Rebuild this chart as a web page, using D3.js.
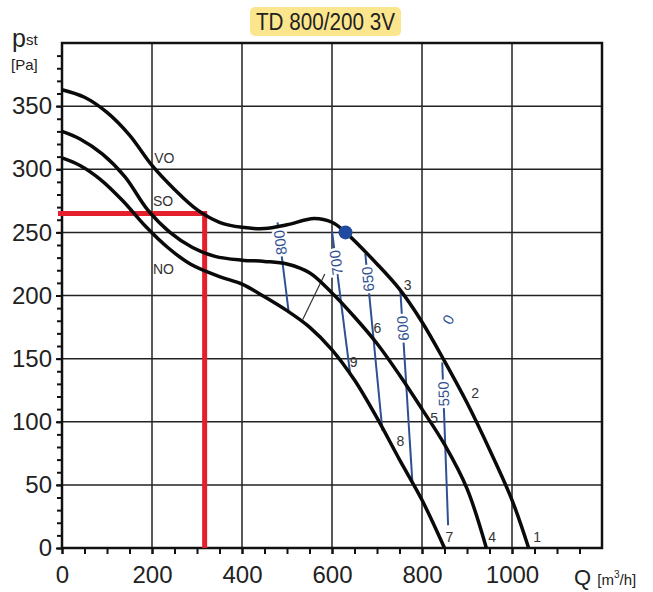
<!DOCTYPE html>
<html><head><meta charset="utf-8">
<script src="https://cdn.jsdelivr.net/npm/d3@7"></script>
<style>html,body{margin:0;padding:0;background:#fff}svg{display:block}</style>
</head><body>
<svg id="c" width="653" height="592"></svg>
<script>
// ---- data ----
const title = "TD 800/200 3V";
const qVO = [0,50,100,150,200,250,300,350,400,450,500,560,600,630,700,750,800,850,900,950,1000,1037];
const pVO = [363,357,345,327,303,284,268,258,254,253,256,261,258,250,225,205,179,148,115,78,38,0];
const qSO = [0,40,90,140,190,240,290,340,400,450,500,550,600,650,700,750,800,850,900,943];
const pSO = [330,324,312,294,268,250,238,231,228,227,225,218,202,183,162,137,110,82,47,0];
const qNO = [0,40,85,135,185,235,285,350,400,450,500,550,600,650,700,750,800,850];
const pNO = [309,303,292,275,255,238,225,215,209,199,188,175,157,133,103,70,38,0];
const curveNames = ["VO","SO","NO"];
const curveNameQ = [205,202,202];
const curveNameP = [309,275,221];
const pointNums = ["3","2","1","6","5","4","9","8","7"];
const pointNumQ = [768,918,1056,701,827,956,648,752,861];
const pointNumP = [208,123,9,174,103,9,147,85,9];
const isoLabels = ["800","700","650","600","550"];
const isoQ1 = [479,600,674,752,845];
const isoP1 = [258,251,233,203,147];
const isoQ2 = [504,640,712,779,858];
const isoP2 = [186,139,93,50,18];
const isoLabelP = [242,226,213,174,122];
const sysQ = [535,584], sysP = [181,217];
const opQ = 630, opP = 250;
const selQ = 317, selP = 265;
const xTicks = [0,200,400,600,800,1000];
const yTicks = [0,50,100,150,200,250,300,350];

// ---- scales ----
const svg = d3.select("#c");
const x = d3.scaleLinear().domain([0,1200]).range([62,602]);
const y = d3.scaleLinear().domain([0,400]).range([548,43]);
const FONT = "'Liberation Sans', Arial, sans-serif";

// title
svg.append("rect").attr("x",250).attr("y",7).attr("width",151).attr("height",29).attr("rx",5).attr("fill","#fbe68e");
svg.append("text").attr("x",325.5).attr("y",30).attr("text-anchor","middle").attr("font-family",FONT)
  .attr("font-size",23).attr("textLength",139).attr("lengthAdjust","spacingAndGlyphs").attr("fill","#222").text(title);

// grid
const g = svg.append("g");
g.selectAll("line.vg").data(xTicks.filter(d=>d>0)).join("line")
  .attr("x1",d=>x(d)).attr("x2",d=>x(d)).attr("y1",y(400)).attr("y2",y(0))
  .attr("stroke","#222").attr("stroke-width",1.5);
g.selectAll("line.hg").data(yTicks.filter(d=>d>0)).join("line")
  .attr("y1",d=>y(d)).attr("y2",d=>y(d)).attr("x1",x(0)).attr("x2",x(1200))
  .attr("stroke","#222").attr("stroke-width",1.5);

// axes ticks
const fmt = d3.format("d");
const yMinor = d3.axisLeft(y).tickValues(d3.range(0,400,10)).tickSize(5).tickFormat("");
const yAx = svg.append("g").attr("transform",`translate(${x(0)},0)`).call(yMinor);
const yMajor = d3.axisLeft(y).tickValues(yTicks).tickSize(6).tickPadding(4).tickFormat(fmt);
const yAx2 = svg.append("g").attr("transform",`translate(${x(0)},0)`).call(yMajor);
const xMinor = d3.axisBottom(x).tickValues(d3.range(0,1200,50)).tickSize(6).tickFormat("");
const xAx = svg.append("g").attr("transform",`translate(0,${y(0)})`).call(xMinor);
const xMajor = d3.axisBottom(x).tickValues(xTicks).tickSize(6).tickPadding(12).tickFormat(fmt);
const xAx2 = svg.append("g").attr("transform",`translate(0,${y(0)})`).call(xMajor);
[yAx,yAx2,xAx,xAx2].forEach(a=>{
  a.select(".domain").remove();
  a.selectAll(".tick line").attr("stroke","#111").attr("stroke-width",2);
  a.selectAll("text").attr("font-family",FONT).attr("font-size",24).attr("fill","#222");
});

// frame
svg.append("rect").attr("x",x(0)).attr("y",y(400)).attr("width",x(1200)-x(0)).attr("height",y(0)-y(400))
  .attr("fill","none").attr("stroke","#111").attr("stroke-width",2.5);

// axis labels
const pl = svg.append("text").attr("x",12).attr("y",47).attr("font-family",FONT).attr("fill","#222");
pl.append("tspan").attr("font-size",25).text("p");
pl.append("tspan").attr("font-size",15).attr("dy",-2).text("st");
svg.append("text").attr("x",11).attr("y",70).attr("font-family",FONT).attr("font-size",15).attr("fill","#222").text("[Pa]");
const ql = svg.append("text").attr("x",574).attr("y",585).attr("font-family",FONT).attr("fill","#222");
ql.append("tspan").attr("font-size",22).text("Q ");
ql.append("tspan").attr("font-size",15).text("[m");
ql.append("tspan").attr("font-size",10).attr("dy",-7).text("3");
ql.append("tspan").attr("font-size",15).attr("dy",7).text("/h]");

// red selection lines
svg.append("line").attr("x1",x(0)-4).attr("x2",x(selQ)+2.5).attr("y1",y(selP)).attr("y2",y(selP))
  .attr("stroke","#e3202b").attr("stroke-width",5);
svg.append("line").attr("x1",x(selQ)).attr("x2",x(selQ)).attr("y1",y(selP)).attr("y2",y(0))
  .attr("stroke","#e3202b").attr("stroke-width",5);

// iso lines (blue)
const blue = "#2f5193";
isoLabels.forEach((lab,i)=>{
  const x1=x(isoQ1[i]), y1=y(isoP1[i]), x2=x(isoQ2[i]), y2=y(isoP2[i]);
  svg.append("line").attr("x1",x1).attr("y1",y1).attr("x2",x2).attr("y2",y2)
    .attr("stroke",blue).attr("stroke-width",2);
  const t=(isoP1[i]-isoLabelP[i])/(isoP1[i]-isoP2[i]);
  const lx=x1+(x2-x1)*t, ly=y1+(y2-y1)*t;
  const ang=Math.atan2(y1-y2,x1-x2)*180/Math.PI;
  svg.append("text").attr("transform",`translate(${lx},${ly}) rotate(${ang})`)
    .attr("text-anchor","middle").attr("dy","0.36em").attr("font-family",FONT).attr("font-size",15)
    .attr("fill",blue).attr("stroke","#fff").attr("stroke-width",5).attr("paint-order","stroke").text(lab);
});
svg.append("text").attr("transform",`translate(${x(858)},${y(181)}) rotate(-60)`).attr("text-anchor","middle")
  .attr("dy","0.36em").attr("font-family",FONT).attr("font-size",15).attr("fill",blue).text("0");

// system line
svg.append("line").attr("x1",x(sysQ[0])).attr("y1",y(sysP[0])).attr("x2",x(sysQ[1])).attr("y2",y(sysP[1]))
  .attr("stroke","#333").attr("stroke-width",1.2);

// fan curves
const line = d3.line().x(d=>x(d[0])).y(d=>y(d[1])).curve(d3.curveCatmullRom.alpha(0.5));
[[qVO,pVO],[qSO,pSO],[qNO,pNO]].forEach(([qs,ps])=>{
  svg.append("path").attr("d",line(qs.map((q,i)=>[q,ps[i]]))).attr("fill","none")
    .attr("stroke","#0a0a0a").attr("stroke-width",3.5).attr("stroke-linejoin","round");
});

// curve names
curveNames.forEach((n,i)=>{
  svg.append("text").attr("x",x(curveNameQ[i])).attr("y",y(curveNameP[i])).attr("dy","0.36em")
    .attr("font-family",FONT).attr("font-size",14).attr("fill","#333").text(n);
});
pointNums.forEach((n,i)=>{
  svg.append("text").attr("x",x(pointNumQ[i])).attr("y",y(pointNumP[i])).attr("dy","0.36em").attr("text-anchor","middle")
    .attr("font-family",FONT).attr("font-size",14).attr("fill","#333").text(n);
});

// operating point
svg.append("circle").attr("cx",x(opQ)).attr("cy",y(opP)).attr("r",7).attr("fill","#1f4aa0");
</script>
</body></html>
